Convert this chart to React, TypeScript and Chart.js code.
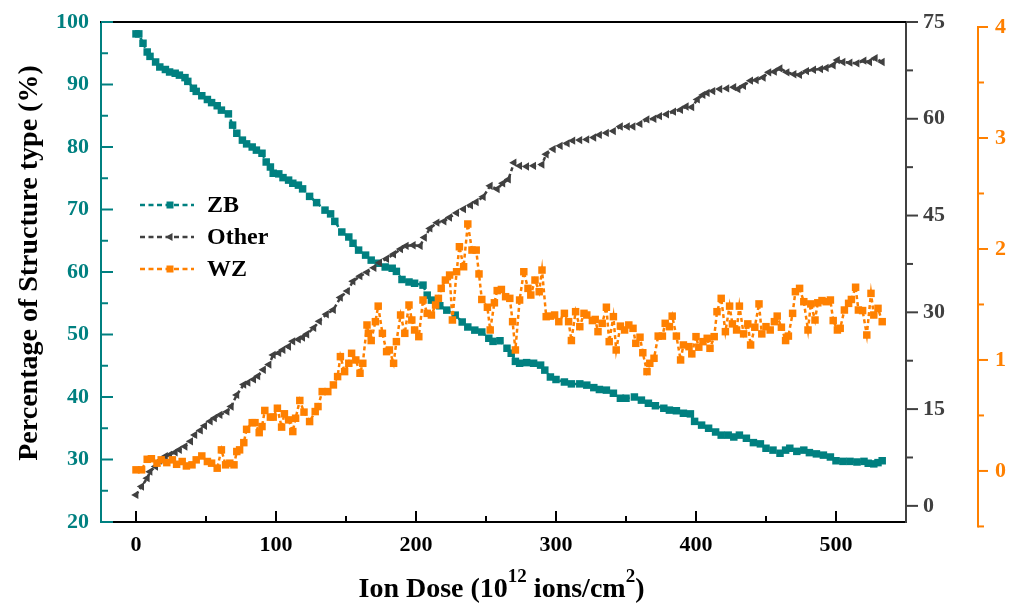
import React, { useEffect, useRef } from "react";
import { Chart, registerables } from "chart.js";

Chart.register(...registerables);

const FONT = "'Liberation Serif', 'Times New Roman', serif";
const TEAL = "#008080";
const GRAY = "#404040";
const ORANGE = "#ff8000";

// ---- data ----
const zbDose = [0,2,5,8,10,14,17,21,24,28,31,35,37,41,43,47,51,54,58,61,66,69,72,76,79,83,86,90,93,96,98,102,105,109,112,116,119,124,129,135,139,142,147,152,155,159,164,168,173,178,183,186,190,195,199,205,208,211,217,222,228,233,237,242,247,252,255,260,265,268,271,274,279,284,289,292,296,300,306,311,317,322,327,331,336,341,346,350,356,361,366,371,377,381,386,391,396,399,404,409,414,418,423,427,431,436,441,446,450,455,460,464,467,472,477,481,486,491,496,500,505,510,515,520,523,527,530,533];
const zbPct = [98.1,98.1,96.6,95.2,94.5,93.6,92.8,92.4,92.0,91.8,91.5,91.1,90.5,89.4,88.9,88.2,87.6,87.1,86.6,85.9,85.3,83.5,82.2,81.1,80.5,80.0,79.5,79.0,77.6,76.8,75.8,75.7,75.1,74.7,74.2,73.9,73.3,72.1,71.1,69.9,69.3,68.1,66.4,65.6,64.6,63.5,62.7,61.9,61.4,60.8,60.6,60.1,58.8,58.4,58.2,57.9,56.3,55.5,54.6,53.9,53.1,52.0,51.2,50.7,50.4,49.4,48.9,49.0,47.8,47.0,45.7,45.4,45.5,45.4,45.1,44.3,43.2,42.8,42.4,42.1,42.1,41.9,41.5,41.2,41.1,40.6,39.8,39.8,40.0,39.5,39.0,38.6,38.2,37.9,37.8,37.4,37.3,36.1,35.5,35.0,34.4,33.9,33.9,33.6,33.9,33.4,32.7,32.5,31.8,31.5,31.0,31.5,31.8,31.3,31.5,31.1,30.9,30.7,30.4,29.8,29.7,29.7,29.6,29.7,29.4,29.3,29.5,29.8];

const otherDose = [0,4,8,10,14,17,21,24,28,31,35,39,42,46,49,53,56,60,65,68,72,77,80,84,87,91,95,98,102,105,109,112,116,119,122,127,131,136,141,146,151,155,160,165,170,174,179,184,189,193,198,203,206,210,215,220,224,229,234,239,243,248,253,258,262,266,270,274,279,284,290,293,298,303,308,312,317,322,327,331,336,341,346,351,355,360,365,370,374,379,384,389,393,397,401,405,408,412,417,422,427,430,434,439,443,448,452,456,460,465,470,474,479,484,489,493,498,501,505,510,515,520,524,528,533];
const otherPct = [1.7,3.0,4.3,5.3,6.1,7.0,7.7,7.9,8.3,8.7,9.2,10.0,11.0,11.7,12.4,13.1,13.6,14.1,14.6,15.4,17.2,18.8,19.1,19.6,20.1,21.1,21.9,23.4,23.7,24.2,24.7,25.5,25.8,26.1,26.6,27.6,28.6,29.7,30.4,32.3,33.3,34.8,35.6,36.2,36.9,37.7,38.3,39.0,39.8,40.3,40.4,40.3,41.6,43.0,43.9,44.1,44.7,45.4,46.0,46.6,47.1,47.9,49.6,49.1,50.0,50.6,53.2,52.7,52.6,52.7,52.9,54.5,55.3,55.8,56.2,56.6,56.7,56.8,57.1,57.5,57.8,58.1,58.8,58.8,58.8,59.2,59.9,60.0,60.4,60.7,61.1,61.4,61.9,61.8,63.0,63.7,64.0,64.3,64.6,64.7,64.9,64.6,65.1,65.9,66.0,66.4,67.2,67.3,67.8,67.2,66.9,66.8,67.4,67.6,67.7,67.9,68.3,69.1,68.8,68.7,68.6,69.0,68.8,69.4,68.8];

const wzDose = [0,4,8,11,15,18,22,26,29,33,36,40,43,47,51,54,58,61,64,67,70,72,74,77,79,83,85,88,90,92,96,98,101,104,106,109,112,114,117,120,124,128,130,133,137,141,144,146,149,152,154,157,160,162,165,166,168,171,173,176,179,181,184,186,189,192,195,197,199,202,205,208,211,214,216,218,221,224,226,229,231,234,237,240,243,245,247,251,253,256,258,261,264,267,269,271,274,277,280,282,285,288,290,293,296,299,302,306,309,311,314,317,320,322,326,328,330,333,336,338,341,343,346,349,352,355,357,360,362,365,367,370,373,376,378,381,383,386,389,391,395,397,400,402,405,408,410,413,415,418,421,424,426,429,431,434,437,439,442,445,447,450,453,456,458,461,464,466,469,471,474,477,480,482,485,487,490,493,496,498,501,503,506,509,511,514,516,519,522,525,527,530,533];
const wzPct = [0.01,0.01,0.105,0.11,0.07,0.10,0.075,0.10,0.06,0.085,0.045,0.055,0.10,0.135,0.085,0.07,0.025,0.19,0.055,0.07,0.055,0.175,0.19,0.255,0.375,0.435,0.435,0.345,0.40,0.545,0.485,0.485,0.565,0.395,0.515,0.46,0.355,0.475,0.635,0.53,0.445,0.535,0.58,0.715,0.715,0.775,0.85,1.03,0.895,0.97,1.06,1.0,0.88,0.97,1.315,1.24,1.175,1.345,1.485,1.24,1.075,1.09,0.97,1.165,1.405,1.24,1.495,1.36,1.27,1.21,1.54,1.42,1.405,1.495,1.555,1.645,1.72,1.765,1.36,1.795,2.02,1.84,2.225,1.99,1.99,1.775,1.545,1.475,1.27,1.515,1.625,1.635,1.57,1.555,1.345,1.09,1.54,1.795,1.645,1.585,1.72,1.615,1.81,1.39,1.395,1.405,1.345,1.42,1.345,1.175,1.435,1.30,1.42,1.405,1.355,1.365,1.255,1.33,1.475,1.165,1.39,1.09,1.305,1.27,1.315,1.285,1.15,1.205,1.065,0.895,0.97,1.015,1.215,1.215,1.33,1.30,1.395,1.215,1.0,1.135,1.12,1.055,1.21,1.115,1.165,1.195,1.105,1.21,1.435,1.555,1.255,1.485,1.325,1.27,1.485,1.235,1.325,1.135,1.295,1.505,1.235,1.30,1.27,1.345,1.395,1.295,1.175,1.215,1.42,1.615,1.645,1.525,1.27,1.505,1.36,1.515,1.535,1.525,1.54,1.355,1.27,1.285,1.45,1.51,1.545,1.655,1.45,1.445,1.225,1.60,1.405,1.465,1.345];

// ---- tick labels ----
const xTicks = [0, 100, 200, 300, 400, 500];
const xMinor = [50, 150, 250, 350, 450];
const zbTicks = [20, 30, 40, 50, 60, 70, 80, 90, 100];
const zbMinor = [25, 35, 45, 55, 65, 75, 85, 95];
const otherTicks = [0, 15, 30, 45, 60, 75];
const otherMinor = [7.5, 22.5, 37.5, 52.5, 67.5];
const wzTicks = [0, 1, 2, 3, 4];
const wzMinor = [-0.5, 0.5, 1.5, 2.5, 3.5];

const legendItems = [
  { label: "ZB", color: TEAL, marker: "rect" },
  { label: "Other", color: GRAY, marker: "tri" },
  { label: "WZ", color: ORANGE, marker: "rect" },
];

function drawMarker(ctx: CanvasRenderingContext2D, kind: string, x: number, y: number, color: string) {
  ctx.fillStyle = color;
  if (kind === "rect") {
    ctx.fillRect(x - 3.5, y - 3.5, 7, 7);
  } else {
    ctx.beginPath();
    ctx.moveTo(x - 4.5, y);
    ctx.lineTo(x + 2.5, y - 4);
    ctx.lineTo(x + 2.5, y + 4);
    ctx.closePath();
    ctx.fill();
  }
}

const decorPlugin = {
  id: "decor",
  afterDraw(chart: any) {
    const ctx: CanvasRenderingContext2D = chart.ctx;
    const { left, right, top, bottom } = chart.chartArea;
    const sx = chart.scales.x;
    const sz = chart.scales.yZB;
    const so = chart.scales.yOther;
    const sw = chart.scales.yWZ;
    ctx.save();
    ctx.lineWidth = 2;
    ctx.lineCap = "butt";
    ctx.setLineDash([]);

    const seg = (x1: number, y1: number, x2: number, y2: number) => {
      ctx.beginPath();
      ctx.moveTo(x1, y1);
      ctx.lineTo(x2, y2);
      ctx.stroke();
    };

    // top frame
    ctx.strokeStyle = "#000";
    seg(left - 1, top, right + 1, top);

    // x ticks (inward)
    xTicks.forEach((v) => { const p = sx.getPixelForValue(v); seg(p, bottom, p, bottom - 11); });
    xMinor.forEach((v) => { const p = sx.getPixelForValue(v); seg(p, bottom, p, bottom - 6); });

    // left ticks (inward)
    ctx.strokeStyle = TEAL;
    zbTicks.forEach((v) => { const p = sz.getPixelForValue(v); seg(left, p, left + 12, p); });
    zbMinor.forEach((v) => { const p = sz.getPixelForValue(v); seg(left, p, left + 7, p); });

    // gray right ticks (outward)
    ctx.strokeStyle = GRAY;
    otherTicks.forEach((v) => { const p = so.getPixelForValue(v); seg(right, p, right + 12, p); });
    otherMinor.forEach((v) => { const p = so.getPixelForValue(v); seg(right, p, right + 7, p); });

    // orange axis line and ticks
    ctx.strokeStyle = ORANGE;
    const ox = sw.left;
    seg(ox, sw.getPixelForValue(4) - 1, ox, sw.getPixelForValue(-0.5) + 1);
    wzTicks.forEach((v) => { const p = sw.getPixelForValue(v); seg(ox, p, ox + 10, p); });
    wzMinor.forEach((v) => { const p = sw.getPixelForValue(v); seg(ox, p, ox + 6, p); });

    // legend
    legendItems.forEach((it, i) => {
      const y = top + 183 + i * 32;
      const x0 = left + 39;
      ctx.strokeStyle = it.color;
      ctx.lineWidth = 2.5;
      ctx.setLineDash([5, 3.5]);
      seg(x0, y, x0 + 54, y);
      ctx.setLineDash([]);
      drawMarker(ctx, it.marker, x0 + 30, y, it.color);
      ctx.fillStyle = "#000";
      ctx.font = `bold 24px ${FONT}`;
      ctx.textAlign = "left";
      ctx.textBaseline = "middle";
      ctx.fillText(it.label, x0 + 67, y + 1);
    });

    // left title
    ctx.save();
    ctx.translate(37, top + 241);
    ctx.rotate(-Math.PI / 2);
    ctx.fillStyle = "#000";
    ctx.font = `bold 28px ${FONT}`;
    ctx.textAlign = "center";
    ctx.textBaseline = "alphabetic";
    ctx.fillText("Percentage of Structure type (%)", 0, 0);
    ctx.restore();

    // x title with superscripts
    const parts = [
      { t: "Ion Dose (10", sup: false },
      { t: "12", sup: true },
      { t: " ions/cm", sup: false },
      { t: "2", sup: true },
      { t: ")", sup: false },
    ];
    const mainFont = `bold 28px ${FONT}`;
    const supFont = `bold 19px ${FONT}`;
    let total = 0;
    const widths = parts.map((p) => {
      ctx.font = p.sup ? supFont : mainFont;
      const w = ctx.measureText(p.t).width;
      total += w;
      return w;
    });
    let cx = (left + right) / 2 - 2 - total / 2;
    const baseY = bottom + 75;
    ctx.fillStyle = "#000";
    ctx.textAlign = "left";
    ctx.textBaseline = "alphabetic";
    parts.forEach((p, i) => {
      ctx.font = p.sup ? supFont : mainFont;
      ctx.fillText(p.t, cx, p.sup ? baseY - 15 : baseY);
      cx += widths[i];
    });

    ctx.restore();
  },
};

const tickFont = { family: FONT, size: 22, weight: "bold" as const };

const fitY = (w: number) => (s: any) => {
  s.width = w;
  s.paddingTop = 0;
  s.paddingBottom = 0;
};

export default function App() {
  const ref = useRef<HTMLCanvasElement | null>(null);

  useEffect(() => {
    document.body.style.margin = "0";
    if (!ref.current) return;
    const chart = new Chart(ref.current, {
      type: "line",
      data: {
        datasets: [
          {
            label: "ZB",
            data: zbDose.map((x, i) => ({ x, y: zbPct[i] })),
            yAxisID: "yZB",
            borderColor: TEAL,
            backgroundColor: TEAL,
            borderWidth: 2.5,
            borderDash: [4, 3],
            pointStyle: "rect",
            pointRadius: 5.3,
            pointBorderWidth: 0,
            pointBackgroundColor: TEAL,
            order: 3,
          },
          {
            label: "Other",
            data: otherDose.map((x, i) => ({ x, y: otherPct[i] })),
            yAxisID: "yOther",
            borderColor: GRAY,
            backgroundColor: GRAY,
            borderWidth: 2.5,
            borderDash: [4, 3],
            pointStyle: "triangle",
            pointRotation: -90,
            pointRadius: 4.8,
            pointBorderWidth: 0,
            pointBackgroundColor: GRAY,
            order: 2,
          },
          {
            label: "WZ",
            data: wzDose.map((x, i) => ({ x, y: wzPct[i] })),
            yAxisID: "yWZ",
            borderColor: ORANGE,
            backgroundColor: ORANGE,
            borderWidth: 2.5,
            borderDash: [4, 3],
            pointStyle: "rect",
            pointRadius: 5.3,
            pointBorderWidth: 0,
            pointBackgroundColor: ORANGE,
            order: 1,
          },
        ],
      },
      options: {
        animation: false,
        responsive: false,
        devicePixelRatio: 1,
        layout: { padding: { top: 22, left: 0, right: 0, bottom: 0 } },
        plugins: { legend: { display: false }, tooltip: { enabled: false } },
        scales: {
          x: {
            type: "linear",
            position: "bottom",
            min: -25,
            max: 550,
            grid: { display: false, drawTicks: false },
            border: { display: true, color: "#000", width: 2 },
            ticks: { color: "#000", font: tickFont, padding: 10, maxRotation: 0, autoSkip: false },
            afterBuildTicks: (s: any) => { s.ticks = xTicks.map((v) => ({ value: v })); },
            afterFit: (s: any) => { s.height = 82; s.paddingLeft = 0; s.paddingRight = 0; },
          },
          yZB: {
            type: "linear",
            position: "left",
            min: 20,
            max: 100,
            grid: { display: false, drawTicks: false },
            border: { display: true, color: TEAL, width: 2 },
            ticks: { color: TEAL, font: tickFont, padding: 12, autoSkip: false },
            afterBuildTicks: (s: any) => { s.ticks = zbTicks.map((v) => ({ value: v })); },
            afterFit: fitY(101),
          },
          yOther: {
            type: "linear",
            position: "right",
            weight: 0,
            min: -2.5,
            max: 75,
            grid: { display: false, drawTicks: false },
            border: { display: true, color: GRAY, width: 2 },
            ticks: { color: GRAY, font: tickFont, padding: 17, autoSkip: false },
            afterBuildTicks: (s: any) => { s.ticks = otherTicks.map((v) => ({ value: v })); },
            afterFit: fitY(72),
          },
          yWZ: {
            type: "linear",
            position: "right",
            weight: 1,
            min: -0.46,
            max: 4.045,
            grid: { display: false, drawTicks: false },
            border: { display: false },
            ticks: { color: ORANGE, font: tickFont, padding: 17, autoSkip: false },
            afterBuildTicks: (s: any) => { s.ticks = wzTicks.map((v) => ({ value: v })); },
            afterFit: fitY(41),
          },
        },
      },
      plugins: [decorPlugin],
    });
    return () => chart.destroy();
  }, []);

  return (
    <div style={{ width: 1019, height: 604 }}>
      <canvas ref={ref} width={1019} height={604} style={{ display: "block" }} />
    </div>
  );
}
